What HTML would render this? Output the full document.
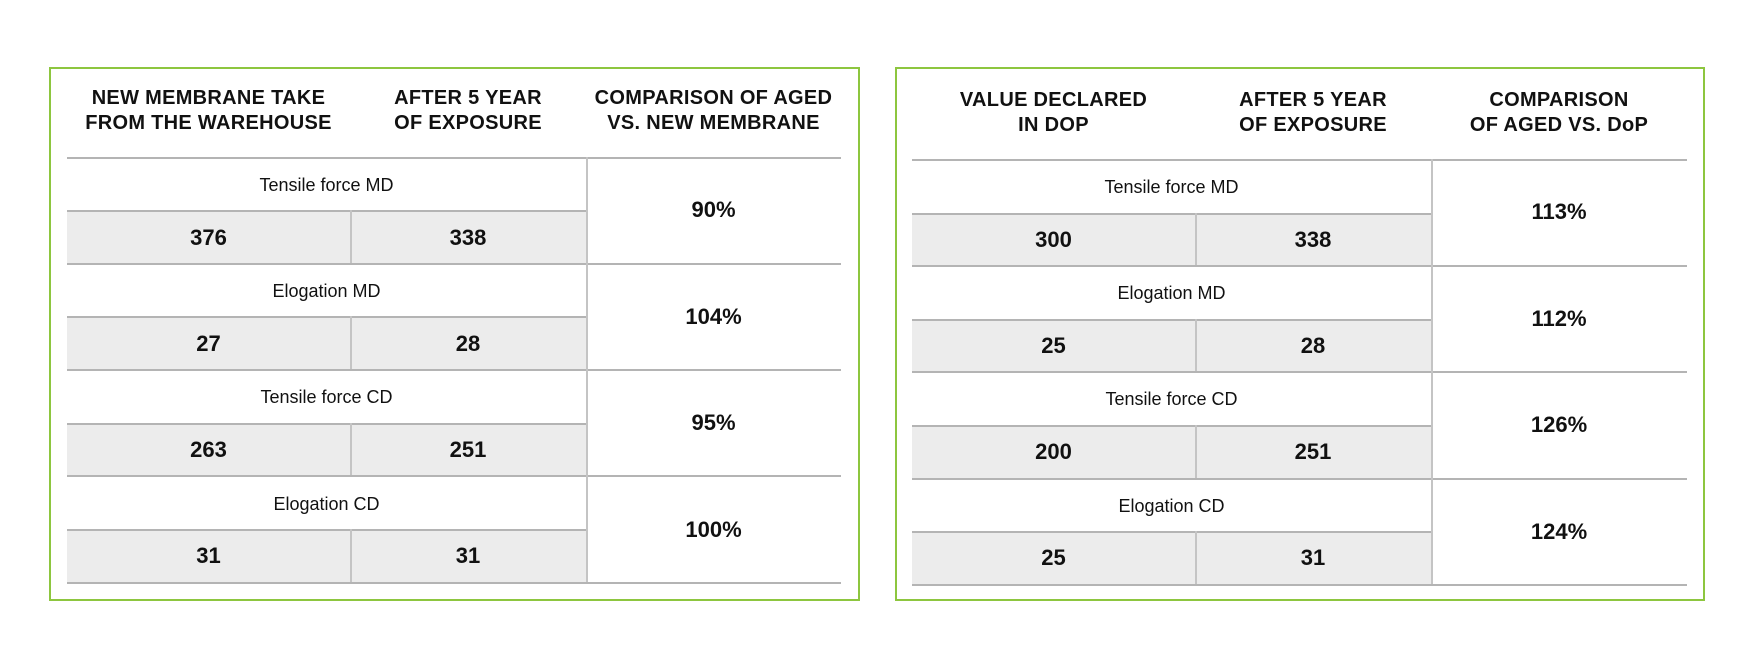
<!DOCTYPE html>
<html><head><meta charset="utf-8"><style>
*{margin:0;padding:0;box-sizing:border-box}
body{width:1754px;height:667px;background:#fff;position:relative;overflow:hidden;font-family:"Liberation Sans",sans-serif;color:#111}
.box{position:absolute;border:2px solid #8dc63f}
.a{position:absolute}
.h{position:absolute;font-weight:bold;font-size:20px;line-height:25px;text-align:center;letter-spacing:0.3px}
.g{position:absolute;background:#ececec}
.l{position:absolute;background:#b4b4b4;height:1.5px}
.v{position:absolute;background:#c4c4c4;width:1.5px}
.lab{position:absolute;font-size:18px;text-align:center;line-height:20px}
.n{position:absolute;font-size:22px;font-weight:bold;text-align:center;line-height:24px}
</style></head><body>
<div class="box" style="left:49px;top:67px;width:811px;height:534px"></div>
<div class="box" style="left:895px;top:67px;width:810px;height:534px"></div>

<!-- left headers -->
<div class="h" style="left:67px;width:283px;top:86px">NEW MEMBRANE TAKE<br>FROM THE WAREHOUSE</div>
<div class="h" style="left:350px;width:236px;top:86px">AFTER 5 YEAR<br>OF EXPOSURE</div>
<div class="h" style="left:586px;width:255px;top:86px">COMPARISON OF AGED<br>VS. NEW MEMBRANE</div>
<!-- right headers -->
<div class="h" style="left:912px;width:283px;top:88px">VALUE DECLARED<br>IN DOP</div>
<div class="h" style="left:1195px;width:236px;top:88px">AFTER 5 YEAR<br>OF EXPOSURE</div>
<div class="h" style="left:1431px;width:256px;top:88px">COMPARISON<br>OF AGED VS. DoP</div>

<!-- left table -->
<div class="g" style="left:67px;top:210px;width:519px;height:53px"></div>
<div class="g" style="left:67px;top:316px;width:519px;height:53px"></div>
<div class="g" style="left:67px;top:423px;width:519px;height:52px"></div>
<div class="g" style="left:67px;top:529px;width:519px;height:53px"></div>
<div class="l" style="left:67px;width:774px;top:157px"></div>
<div class="l" style="left:67px;width:519px;top:210px"></div>
<div class="l" style="left:67px;width:774px;top:263px"></div>
<div class="l" style="left:67px;width:519px;top:316px"></div>
<div class="l" style="left:67px;width:774px;top:369px"></div>
<div class="l" style="left:67px;width:519px;top:423px"></div>
<div class="l" style="left:67px;width:774px;top:475px"></div>
<div class="l" style="left:67px;width:519px;top:529px"></div>
<div class="l" style="left:67px;width:774px;top:582px"></div>
<div class="v" style="left:586px;top:157px;height:425px"></div>
<div class="v" style="left:350px;top:210px;height:53px"></div>
<div class="v" style="left:350px;top:316px;height:53px"></div>
<div class="v" style="left:350px;top:423px;height:52px"></div>
<div class="v" style="left:350px;top:529px;height:53px"></div>
<div class="lab" style="left:67px;width:519px;top:175px">Tensile force MD</div>
<div class="lab" style="left:67px;width:519px;top:281px">Elogation MD</div>
<div class="lab" style="left:67px;width:519px;top:387px">Tensile force CD</div>
<div class="lab" style="left:67px;width:519px;top:494px">Elogation CD</div>
<div class="n" style="left:67px;width:283px;top:226px">376</div>
<div class="n" style="left:350px;width:236px;top:226px">338</div>
<div class="n" style="left:67px;width:283px;top:332px">27</div>
<div class="n" style="left:350px;width:236px;top:332px">28</div>
<div class="n" style="left:67px;width:283px;top:438px">263</div>
<div class="n" style="left:350px;width:236px;top:438px">251</div>
<div class="n" style="left:67px;width:283px;top:544px">31</div>
<div class="n" style="left:350px;width:236px;top:544px">31</div>
<div class="n" style="left:586px;width:255px;top:198px">90%</div>
<div class="n" style="left:586px;width:255px;top:305px">104%</div>
<div class="n" style="left:586px;width:255px;top:411px">95%</div>
<div class="n" style="left:586px;width:255px;top:518px">100%</div>

<!-- right table -->
<div class="g" style="left:912px;top:213px;width:519px;height:52px"></div>
<div class="g" style="left:912px;top:319px;width:519px;height:52px"></div>
<div class="g" style="left:912px;top:425px;width:519px;height:53px"></div>
<div class="g" style="left:912px;top:531px;width:519px;height:53px"></div>
<div class="l" style="left:912px;width:775px;top:159px"></div>
<div class="l" style="left:912px;width:519px;top:213px"></div>
<div class="l" style="left:912px;width:775px;top:265px"></div>
<div class="l" style="left:912px;width:519px;top:319px"></div>
<div class="l" style="left:912px;width:775px;top:371px"></div>
<div class="l" style="left:912px;width:519px;top:425px"></div>
<div class="l" style="left:912px;width:775px;top:478px"></div>
<div class="l" style="left:912px;width:519px;top:531px"></div>
<div class="l" style="left:912px;width:775px;top:584px"></div>
<div class="v" style="left:1431px;top:159px;height:425px"></div>
<div class="v" style="left:1195px;top:213px;height:52px"></div>
<div class="v" style="left:1195px;top:319px;height:52px"></div>
<div class="v" style="left:1195px;top:425px;height:53px"></div>
<div class="v" style="left:1195px;top:531px;height:53px"></div>
<div class="lab" style="left:912px;width:519px;top:177px">Tensile force MD</div>
<div class="lab" style="left:912px;width:519px;top:283px">Elogation MD</div>
<div class="lab" style="left:912px;width:519px;top:389px">Tensile force CD</div>
<div class="lab" style="left:912px;width:519px;top:496px">Elogation CD</div>
<div class="n" style="left:912px;width:283px;top:228px">300</div>
<div class="n" style="left:1195px;width:236px;top:228px">338</div>
<div class="n" style="left:912px;width:283px;top:334px">25</div>
<div class="n" style="left:1195px;width:236px;top:334px">28</div>
<div class="n" style="left:912px;width:283px;top:440px">200</div>
<div class="n" style="left:1195px;width:236px;top:440px">251</div>
<div class="n" style="left:912px;width:283px;top:546px">25</div>
<div class="n" style="left:1195px;width:236px;top:546px">31</div>
<div class="n" style="left:1431px;width:256px;top:200px">113%</div>
<div class="n" style="left:1431px;width:256px;top:307px">112%</div>
<div class="n" style="left:1431px;width:256px;top:413px">126%</div>
<div class="n" style="left:1431px;width:256px;top:520px">124%</div>
</body></html>
